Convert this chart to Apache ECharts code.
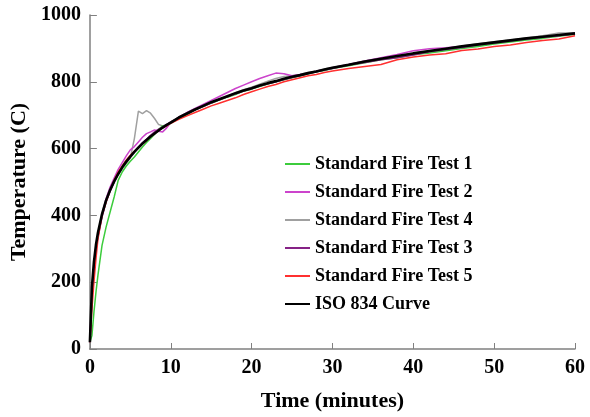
<!DOCTYPE html>
<html><head><meta charset="utf-8">
<script src="https://cdn.jsdelivr.net/npm/echarts@6/dist/echarts.min.js"></script>
<style>html,body{margin:0;padding:0;background:#fff}#c{width:590px;height:417px}</style>
</head><body><div id="c"></div>
<script>
const times = [0,0.25,0.5,0.75,1,1.5,2,2.5,3,3.5,4,4.5,5,5.5,6,6.5,7,7.5,8,8.5,9,9.5,10,11,12,13,14,15,16,17,18,19,20,21,22,23,24,25,26,27,28,29,30,32,34,36,38,40,42,44,46,48,50,52,54,56,58,60];
const test1 = [20,40,110,170,222,310,365,410,455,505,530,548,562,575,590,605,618,630,643,658,668,668,676,690,702,716,726,736,745,754,762,772,778,786,793,800,806,812,818,824,830,834,840,848,857,866,872,881,886,893,900,906,913,919,925,930,936,942];
const test2 = [20,170,250,305,345,405,450,485,512,538,558,578,596,606,620,634,645,650,656,652,650,662,678,694,708,720,732,744,756,768,780,790,800,810,818,826,824,818,822,826,832,836,842,852,862,872,882,893,899,902,906,912,918,924,930,934,940,945];
const test4 = [20,160,245,300,340,400,442,474,500,522,540,556,572,630,712,705,714,706,690,672,668,672,680,694,706,716,728,738,748,757,767,776,784,793,802,810,816,818,822,828,832,838,843,852,862,870,878,886,893,900,907,914,920,925,931,938,946,946];
const test3 = [20,150,235,295,335,395,440,472,500,524,545,562,578,592,605,618,628,640,650,658,664,672,680,692,704,716,726,736,746,755,764,772,779,787,794,800,807,813,819,825,830,835,840,850,858,866,872,880,890,897,903,910,916,922,928,933,938,944];
const test5 = [20,120,200,270,330,400,440,475,505,530,548,566,580,592,602,614,624,636,645,655,662,668,676,688,698,708,718,728,736,744,752,762,770,778,786,792,800,806,812,818,822,828,832,840,846,852,866,874,880,884,894,898,906,910,918,924,928,938];
const iso834 = [20,185,261,312,349,404,445,476,502,524,544,561,576,590,603,615,626,636,645,654,663,671,678,693,705,717,728,739,748,757,766,774,781,789,796,802,809,815,820,826,831,837,842,851,861,869,877,885,892,899,906,912,918,924,930,935,940,945];
const seriesNames = ['Standard Fire Test 1','Standard Fire Test 2','Standard Fire Test 4','Standard Fire Test 3','Standard Fire Test 5','ISO 834 Curve'];
const seriesColors = ['#3ccc3c','#cc44cc','#a0a0a0','#862286','#ff3030','#000000'];
const xTicks = [0,10,20,30,40,50,60];
const yTicks = [0,200,400,600,800,1000];

const dataSets = [test1,test2,test4,test3,test5,iso834];
const font = "'Liberation Serif','Times New Roman',serif";
const chart = echarts.init(document.getElementById('c'));
chart.setOption({
  animation:false,
  backgroundColor:'#fff',
  grid:{left:89,right:15,top:15,bottom:63},
  legend:{
    orient:'vertical', left:280, top:150,
    itemWidth:25, itemHeight:2, itemGap:10,
    icon:'rect',
    textStyle:{fontFamily:font,fontWeight:'bold',fontSize:18,color:'#000'},
    data:seriesNames.map((n,i)=>({name:n,icon:'rect',itemStyle:{color:seriesColors[i]}}))
  },
  xAxis:{
    type:'value', min:0, max:60, interval:10,
    name:'Time (minutes)', nameLocation:'middle', nameGap:41,
    nameTextStyle:{fontFamily:font,fontWeight:'bold',fontSize:22,color:'#000'},
    axisLine:{lineStyle:{color:'#808080',width:1.5}},
    axisTick:{inside:true,length:6,lineStyle:{color:'#808080'}},
    axisLabel:{fontFamily:font,fontWeight:'bold',fontSize:20,color:'#000',margin:9,
      formatter:v=>xTicks.includes(v)?String(v):''},
    splitLine:{show:false}
  },
  yAxis:{
    type:'value', min:0, max:1000, interval:200,
    name:'Temperature (C)', nameLocation:'middle', nameGap:56,
    nameTextStyle:{fontFamily:font,fontWeight:'bold',fontSize:22,color:'#000'},
    axisLine:{show:true,lineStyle:{color:'#808080',width:1.5}},
    axisTick:{show:true,inside:true,length:7,lineStyle:{color:'#808080'}},
    axisLabel:{fontFamily:font,fontWeight:'bold',fontSize:20,color:'#000',margin:9,
      formatter:v=>yTicks.includes(v)?String(v):''},
    splitLine:{show:false}
  },
  series: dataSets.map((d,i)=>({
    name:seriesNames[i], type:'line', symbol:'none', showSymbol:false,
    color:seriesColors[i],
    z: i===5?10:(i===2?1:2+i),
    lineStyle:{color:seriesColors[i], width: i===5?2.6:1.5},
    data: times.map((t,k)=>[t,d[k]])
  }))
});
</script></body></html>
